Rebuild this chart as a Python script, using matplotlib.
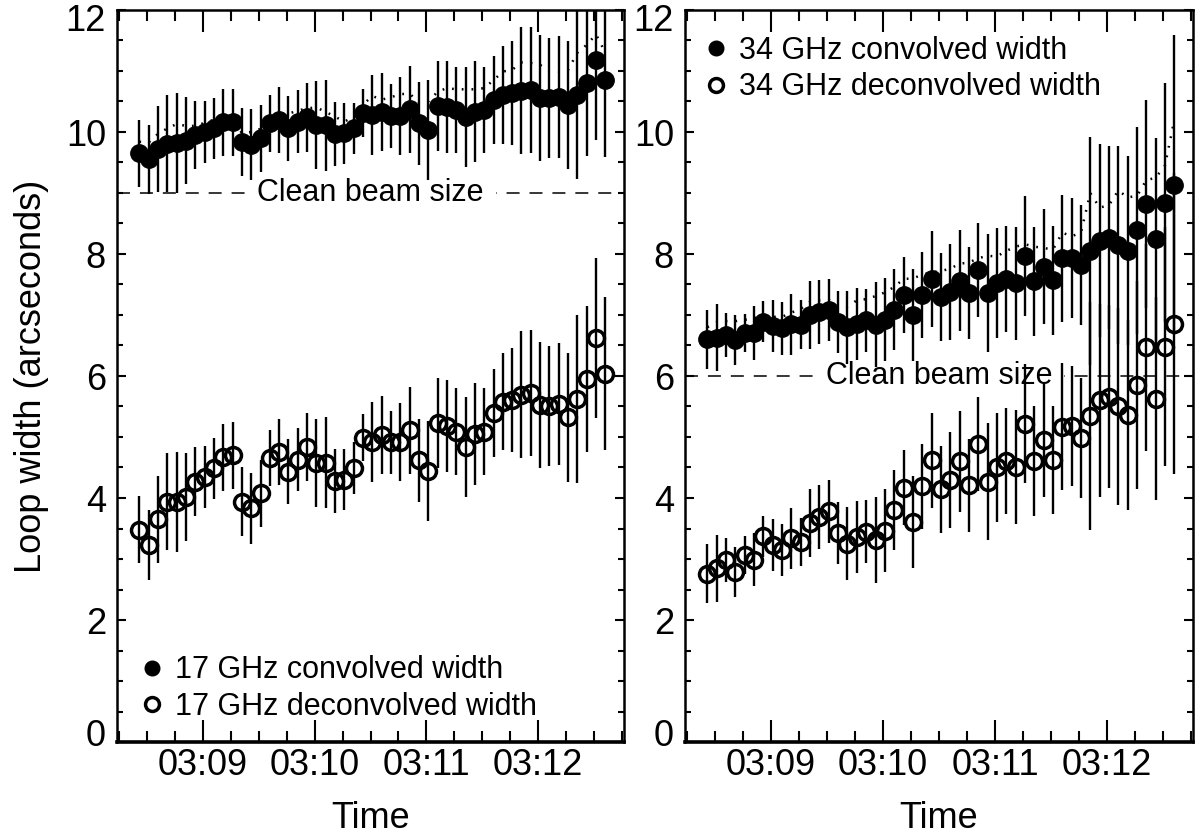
import numpy as np
import pandas as pd
import matplotlib
matplotlib.use('Agg')
import matplotlib.pyplot as plt
import matplotlib.dates as mdates
import matplotlib.transforms as mtransforms
from matplotlib.lines import Line2D
from matplotlib.ticker import MultipleLocator

plt.rcParams.update({'font.family': 'Liberation Sans', 'font.size': 26})

# 5 s cadence, 03:08:26 - 03:12:36
times = pd.date_range('2000-01-01 03:08:26', periods=51, freq='5s').to_pydatetime()
t_range = pd.to_datetime(['2000-01-01 03:08:14', '2000-01-01 03:12:46']).to_pydatetime()

# 17 GHz
conv17 = [9.65, 9.55, 9.72, 9.81, 9.82, 9.86, 9.95, 10.00, 10.06, 10.16, 10.16, 9.84, 9.79,
          9.90, 10.14, 10.20, 10.06, 10.17, 10.24, 10.11, 10.11, 9.97, 9.98, 10.06, 10.31,
          10.28, 10.33, 10.26, 10.26, 10.37, 10.14, 10.04, 10.43, 10.41, 10.36, 10.24, 10.33,
          10.36, 10.52, 10.61, 10.64, 10.68, 10.69, 10.56, 10.56, 10.58, 10.44, 10.61, 10.80,
          11.18, 10.85]
dec17 = [3.48, 3.23, 3.65, 3.94, 3.94, 4.02, 4.27, 4.35, 4.49, 4.67, 4.70, 3.94, 3.83, 4.08,
         4.65, 4.76, 4.43, 4.63, 4.84, 4.57, 4.58, 4.28, 4.30, 4.49, 4.99, 4.92, 5.03, 4.91,
         4.92, 5.11, 4.62, 4.44, 5.23, 5.18, 5.09, 4.84, 5.05, 5.09, 5.40, 5.58, 5.61, 5.69,
         5.72, 5.52, 5.51, 5.54, 5.32, 5.62, 5.95, 6.62, 6.04]
err17 = [0.55, 0.57, 0.71, 0.79, 0.82, 0.72, 0.56, 0.51, 0.50, 0.55, 0.55, 0.56, 0.58, 0.55,
         0.46, 0.54, 0.53, 0.52, 0.56, 0.72, 0.75, 0.52, 0.50, 0.42, 0.39, 0.66, 0.64, 0.52,
         0.64, 0.71, 0.68, 0.82, 0.74, 0.76, 0.71, 0.82, 0.83, 0.71, 0.72, 0.80, 0.85, 1.04,
         1.03, 1.03, 0.98, 1.00, 1.05, 1.38, 1.19, 1.31, 1.26]
dot17 = [9.84, 9.83, 9.97, 10.06, 10.13, 10.10, 10.10, 10.15, 10.20, 10.25, 10.25, 9.98, 10.00,
         10.05, 10.20, 10.30, 10.30, 10.35, 10.39, 10.40, 10.33, 10.25, 10.17, 10.25, 10.45,
         10.59, 10.53, 10.57, 10.62, 10.63, 10.48, 10.50, 10.66, 10.72, 10.70, 10.70, 10.70,
         10.72, 10.85, 10.99, 11.02, 11.14, 11.13, 11.10, 11.00, 10.99, 11.02, 11.30, 11.43,
         11.60, 11.30]

# 34 GHz
conv34 = [6.60, 6.63, 6.67, 6.59, 6.71, 6.70, 6.89, 6.82, 6.78, 6.85, 6.84, 7.00, 7.05, 7.08,
          6.89, 6.80, 6.85, 6.91, 6.84, 6.92, 7.09, 7.33, 7.00, 7.33, 7.59, 7.29, 7.38, 7.56,
          7.36, 7.73, 7.36, 7.52, 7.59, 7.52, 7.97, 7.55, 7.79, 7.57, 7.93, 7.93, 7.82, 8.05,
          8.22, 8.27, 8.15, 8.05, 8.39, 8.82, 8.24, 8.84, 9.13]
dec34 = [2.76, 2.85, 2.98, 2.79, 3.07, 2.99, 3.37, 3.23, 3.15, 3.34, 3.28, 3.59, 3.69, 3.78,
         3.42, 3.25, 3.36, 3.45, 3.31, 3.46, 3.80, 4.17, 3.61, 4.19, 4.62, 4.14, 4.30, 4.60,
         4.21, 4.89, 4.27, 4.50, 4.61, 4.51, 5.22, 4.60, 4.95, 4.62, 5.17, 5.18, 4.98, 5.34,
         5.60, 5.66, 5.50, 5.36, 5.85, 6.47, 5.63, 6.48, 6.86]
err34 = [0.48, 0.55, 0.36, 0.41, 0.31, 0.44, 0.34, 0.43, 0.43, 0.50, 0.40, 0.55, 0.52, 0.51,
         0.51, 0.60, 0.59, 0.52, 0.70, 0.68, 0.66, 0.62, 0.75, 0.70, 0.78, 0.72, 0.79, 0.83,
         0.76, 0.77, 0.96, 0.90, 0.87, 0.93, 0.98, 0.90, 0.94, 0.89, 1.04, 0.98, 0.98, 1.87,
         1.58, 1.50, 1.62, 1.55, 1.70, 1.70, 1.66, 1.96, 2.46]
dot34 = [6.80, 6.88, 6.90, 6.90, 6.92, 6.95, 6.97, 6.97, 6.97, 7.04, 7.10, 7.22, 7.24, 7.25,
         7.15, 7.14, 7.24, 7.26, 7.31, 7.37, 7.46, 7.59, 7.60, 7.66, 7.70, 7.72, 7.76, 7.84,
         7.86, 7.93, 7.97, 7.96, 8.05, 8.12, 8.16, 8.12, 8.10, 8.07, 8.35, 8.29, 8.35, 9.00,
         8.76, 8.80, 9.04, 8.93, 8.95, 9.21, 9.25, 9.45, 10.20]

beam17 = 9.0
beam34 = 6.0

panels = [(conv17, dec17, err17, dot17, beam17, '17 GHz'),
          (conv34, dec34, err34, dot34, beam34, '34 GHz')]

fig = plt.figure(figsize=(11.95, 8.38), dpi=100)
axes = [fig.add_axes([117/1195, 96/838, 507/1195, 732/838]),
        fig.add_axes([685/1195, 96/838, 508/1195, 732/838])]

for ax, (conv, dec, err, dot, beam, band) in zip(axes, panels):
    ax.axhline(beam, color='k', lw=1.1, ls=(0, (8.5, 6.5)), zorder=1)
    ax.text(0.5, beam, 'Clean beam size', transform=ax.get_yaxis_transform(),
            ha='center', va='center', fontsize=22, zorder=1.5,
            bbox=dict(boxstyle='square,pad=0.4', fc='white', ec='none'))
    ax.plot(times, dot, color='k', lw=1.8, ls=(0, (0.7, 3.2)), zorder=2)
    ax.errorbar(times, conv, yerr=err, fmt='o', color='k', ms=12.5,
                elinewidth=1.7, capsize=0, zorder=3)
    ax.errorbar(times, dec, yerr=err, fmt='o', color='k', mfc='none', ms=11.5, mew=2.5,
                elinewidth=1.7, capsize=0, zorder=3)

    ax.set_xlim(t_range)
    ax.set_ylim(0, 12)
    ax.xaxis.set_major_locator(mdates.MinuteLocator())
    ax.xaxis.set_minor_locator(mdates.SecondLocator(bysecond=[15, 30, 45]))
    ax.xaxis.set_major_formatter(mdates.DateFormatter('%H:%M'))
    ax.set_yticks(range(0, 13, 2))
    ax.yaxis.set_minor_locator(MultipleLocator(0.5))
    ax.tick_params(which='both', direction='in', top=True, right=True, width=1.5,
                   labelsize=26)
    ax.tick_params(axis='x', which='major', length=15.5, pad=4)
    ax.tick_params(axis='x', which='minor', length=8)
    ax.tick_params(axis='y', which='major', length=6.5, pad=8)
    ax.tick_params(axis='y', which='minor', length=4)
    for s in ax.spines.values():
        s.set_linewidth(1.8)
    ax.spines['bottom'].set_linewidth(2.6)
    ax.set_xlabel('Time', labelpad=13)

    # end labels sit inside the frame
    yt = ax.yaxis.get_major_ticks()
    lab0 = yt[0].label1
    lab0.set_transform(lab0.get_transform() + mtransforms.ScaledTranslation(0, 0.10, fig.dpi_scale_trans))
    labn = yt[-1].label1
    labn.set_transform(labn.get_transform() + mtransforms.ScaledTranslation(0, -0.08, fig.dpi_scale_trans))

    handles = [Line2D([], [], ls='none', marker='o', color='k', ms=10.5),
               Line2D([], [], ls='none', marker='o', color='k', mfc='none', ms=10, mew=2.5)]
    labels = [band + ' convolved width', band + ' deconvolved width']
    if band == '17 GHz':
        ax.legend(handles, labels, loc='lower left', bbox_to_anchor=(0.048, 0.028),
                  frameon=False, fontsize=22, handlelength=0.7, handletextpad=0.4,
                  labelspacing=0.2, borderaxespad=0, borderpad=0)
    else:
        ax.legend(handles, labels, loc='upper left', bbox_to_anchor=(0.040, 0.965),
                  frameon=False, fontsize=22, handlelength=0.7, handletextpad=0.4,
                  labelspacing=0.22, borderaxespad=0, borderpad=0)

axes[0].set_ylabel('Loop width (arcseconds)', labelpad=12)

fig.savefig('out.png', dpi=100)
